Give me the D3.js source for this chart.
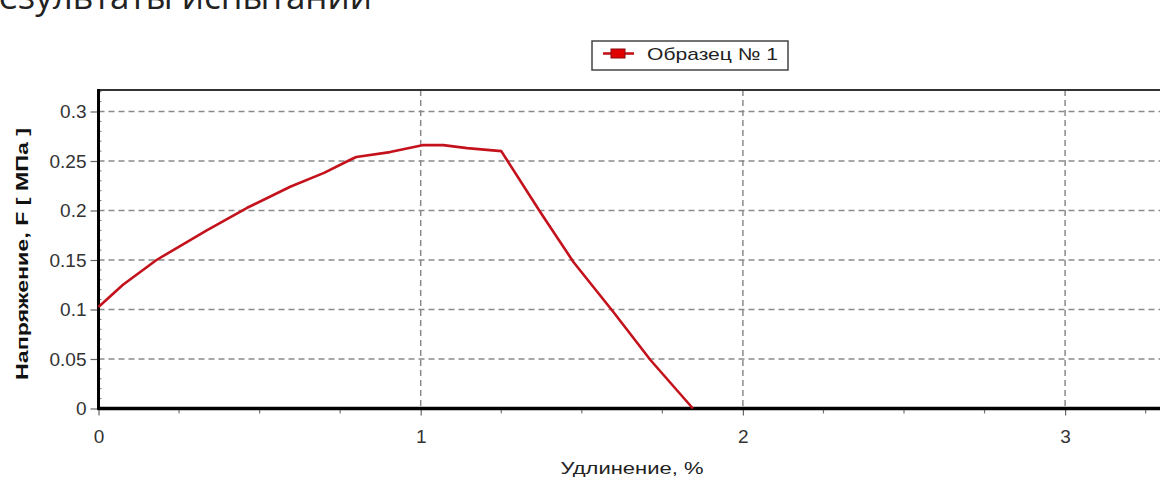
<!DOCTYPE html>
<html><head><meta charset="utf-8">
<script src="https://cdn.jsdelivr.net/npm/d3@7"></script>
<style>html,body{margin:0;padding:0;background:#fff;overflow:hidden}</style>
</head><body>
<svg id="c" width="1160" height="489"></svg>
<script>
// ---- data ----
const elongation = [0, 0.076, 0.18, 0.336, 0.46, 0.595, 0.70, 0.78, 0.80, 0.905, 1.005, 1.07, 1.144, 1.25, 1.371, 1.474, 1.598, 1.713, 1.845];
const stress     = [0.1025, 0.125, 0.150, 0.180, 0.2025, 0.224, 0.238, 0.251, 0.254, 0.259, 0.266, 0.266, 0.263, 0.260, 0.1985, 0.148, 0.0975, 0.049, 0];
const yTicks = [0, 0.05, 0.1, 0.15, 0.2, 0.25, 0.3];
const yTickLabels = ["0", "0.05", "0.1", "0.15", "0.2", "0.25", "0.3"];
const xTicks = [0, 1, 2, 3];
const xTickLabels = ["0", "1", "2", "3"];
const seriesName = "Образец № 1";
const title = "Результаты испытании";
const xTitle = "Удлинение, %";
const yTitle = "Напряжение, F [  МПа ]";

const svg = d3.select("#c");
svg.append("rect").attr("width",1160).attr("height",489).attr("fill","#fff");

const L = 98.5, B = 408.5, T = 90;
const x = d3.scaleLinear().domain([0, 3.32]).range([L, L + 3.32*322.2]);
const y = d3.scaleLinear().domain([0, 0.32]).range([B, B - 0.32*990]);
const R = x.range()[1];
const font = "'Liberation Sans', Arial, sans-serif";

// title (cut off at top, as in the reference)
svg.append("text").attr("x", 372).attr("y", 9).attr("text-anchor","end")
  .attr("font-family","'Open Sans', 'DejaVu Sans', sans-serif").attr("font-size",35).attr("fill","#222")
  .text(title);

// grid
const g = svg.append("g");
g.selectAll("line.hg").data(yTicks.filter(d=>d>0)).join("line")
  .attr("x1", L).attr("x2", R).attr("y1", d=>y(d)).attr("y2", d=>y(d))
  .attr("stroke","#8a8a8a").attr("stroke-width",1.5).attr("stroke-dasharray","6,4");
g.selectAll("line.vg").data(xTicks.filter(d=>d>0)).join("line")
  .attr("y1", T).attr("y2", B).attr("x1", d=>x(d)).attr("x2", d=>x(d))
  .attr("stroke","#8a8a8a").attr("stroke-width",1.5).attr("stroke-dasharray","6,4");

// top border
svg.append("line").attr("x1",L).attr("x2",R).attr("y1",T).attr("y2",T).attr("stroke","#333").attr("stroke-width",2);

// y axis
const yAxis = d3.axisLeft(y).tickValues(yTicks).tickFormat((d,i)=>yTickLabels[i]).tickSize(8).tickPadding(4);
const ya = svg.append("g").attr("transform",`translate(${L},0)`).call(yAxis);
ya.select(".domain").remove();
ya.selectAll("line").attr("stroke","#666").attr("stroke-width",1.2);
ya.selectAll("text").attr("font-family",font).attr("font-size",19).attr("fill","#333");
// y minor ticks
svg.append("g").selectAll("line").data(d3.range(0, 0.321, 0.01).filter(v=>Math.round(v*100)%5!==0)).join("line")
  .attr("x1",L).attr("x2",L+3).attr("y1",d=>y(d)).attr("y2",d=>y(d)).attr("stroke","#777").attr("stroke-width",1);

// x axis
const xAxis = d3.axisBottom(x).tickValues(xTicks).tickFormat((d,i)=>xTickLabels[i]).tickSize(7).tickPadding(14);
const xa = svg.append("g").attr("transform",`translate(0,${B})`).call(xAxis);
xa.select(".domain").remove();
xa.selectAll("line").attr("stroke","#666").attr("stroke-width",1.2);
xa.selectAll("text").attr("font-family",font).attr("font-size",19).attr("fill","#333");
svg.append("g").selectAll("line").data(d3.range(0.25, 3.3, 0.25).filter(v=>Math.abs(v-Math.round(v))>0.01)).join("line")
  .attr("x1",d=>x(d)).attr("x2",d=>x(d)).attr("y1",B).attr("y2",B+5).attr("stroke","#777").attr("stroke-width",1.2);

// axis lines
svg.append("line").attr("x1",L-1).attr("x2",R).attr("y1",B).attr("y2",B).attr("stroke","#000").attr("stroke-width",3.5);
svg.append("line").attr("x1",L).attr("x2",L).attr("y1",T-1).attr("y2",B+1).attr("stroke","#000").attr("stroke-width",3);

// curve
const pts = elongation.map((d,i)=>[d, stress[i]]);
svg.append("path").datum(pts)
  .attr("d", d3.line().x(d=>x(d[0])).y(d=>y(d[1])))
  .attr("fill","none").attr("stroke","#c4121c").attr("stroke-width",2.6).attr("stroke-linejoin","round");

// axis titles
svg.append("text").attr("x", 632).attr("y", 474).attr("text-anchor","middle")
  .attr("font-family",font).attr("font-size",17).attr("fill","#222")
  .attr("textLength",143).attr("lengthAdjust","spacingAndGlyphs").text(xTitle);
svg.append("text").attr("transform","translate(28,254) rotate(-90)").attr("text-anchor","middle")
  .attr("font-family",font).attr("font-weight","bold").attr("font-size",16).attr("fill","#111")
  .attr("textLength",252).attr("lengthAdjust","spacingAndGlyphs").text(yTitle);

// legend
const lg = svg.append("g");
lg.append("rect").attr("x",592).attr("y",41).attr("width",196).attr("height",29)
  .attr("fill","#fff").attr("stroke","#444").attr("stroke-width",1.5);
lg.append("line").attr("x1",603).attr("x2",634).attr("y1",53.5).attr("y2",53.5).attr("stroke","#c4121c").attr("stroke-width",2.6);
lg.append("rect").attr("x",611).attr("y",49).attr("width",14).attr("height",9).attr("fill","#e00000").attr("stroke","#8a0a10").attr("stroke-width",1);
lg.append("text").attr("x",647).attr("y",60).attr("font-family",font).attr("font-size",17).attr("fill","#222")
  .attr("textLength",131).attr("lengthAdjust","spacingAndGlyphs").text(seriesName);
</script>
</body></html>
